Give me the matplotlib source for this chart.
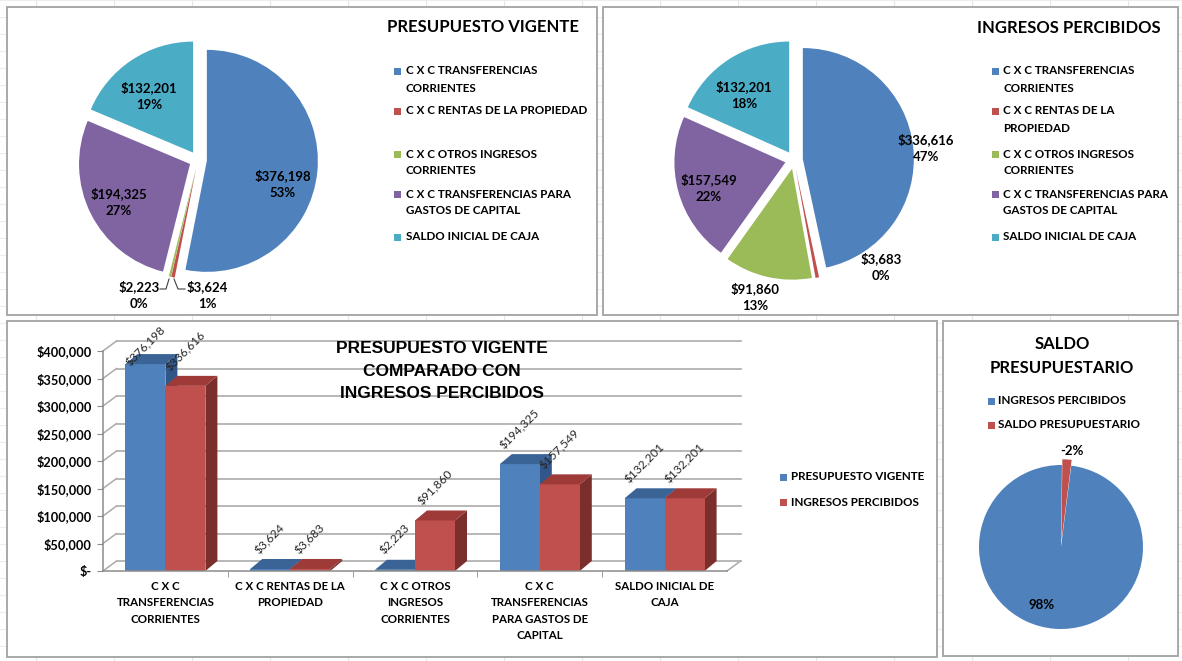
import matplotlib
matplotlib.use("Agg")
import matplotlib.pyplot as plt
from matplotlib.patches import Rectangle, Polygon

plt.rcParams['font.family'] = ['Lato', 'DejaVu Sans']

# ---------------- data ----------------
legend_pv = ["C X C TRANSFERENCIAS\nCORRIENTES", "C X C RENTAS DE LA PROPIEDAD",
             "C X C OTROS INGRESOS\nCORRIENTES", "C X C TRANSFERENCIAS PARA\nGASTOS DE CAPITAL",
             "SALDO INICIAL DE CAJA"]
legend_ip = ["C X C TRANSFERENCIAS\nCORRIENTES", "C X C RENTAS DE LA\nPROPIEDAD",
             "C X C OTROS INGRESOS\nCORRIENTES", "C X C TRANSFERENCIAS PARA\nGASTOS DE CAPITAL",
             "SALDO INICIAL DE CAJA"]
pv_values = [376198, 3624, 2223, 194325, 132201]
ip_values = [336616, 3683, 91860, 157549, 132201]
pv_pct = ["53%", "1%", "0%", "27%", "19%"]
ip_pct = ["47%", "0%", "13%", "22%", "18%"]

bar_categories = ["C X C\nTRANSFERENCIAS\nCORRIENTES", "C X C RENTAS DE LA\nPROPIEDAD",
                  "C X C OTROS\nINGRESOS\nCORRIENTES", "C X C\nTRANSFERENCIAS\nPARA GASTOS DE\nCAPITAL",
                  "SALDO INICIAL DE\nCAJA"]
series_names = ["PRESUPUESTO VIGENTE", "INGRESOS PERCIBIDOS"]
y_ticks = [0, 50000, 100000, 150000, 200000, 250000, 300000, 350000, 400000]
y_ticklabels = ["$-", "$50,000", "$100,000", "$150,000", "$200,000", "$250,000",
                "$300,000", "$350,000", "$400,000"]

saldo_names = ["INGRESOS PERCIBIDOS", "SALDO PRESUPUESTARIO"]
saldo_values = [721909, -13338]
saldo_pct = ["98%", "-2%"]

# ---------------- style ----------------
PIE_COLORS = ["#4F81BD", "#C0504D", "#9BBB59", "#8064A2", "#4BACC6"]
BLUE, RED = "#4F81BD", "#C0504D"
BLUE_TOP, BLUE_SIDE = "#3A6396", "#31578A"
RED_TOP, RED_SIDE = "#9E3B38", "#7B2F2D"

W, H = 1182, 661
fig = plt.figure(figsize=(W / 100, H / 100), dpi=100)
fig.patch.set_facecolor("white")

bg = fig.add_axes([0, 0, 1, 1])
bg.set_xlim(0, W); bg.set_ylim(H, 0); bg.axis("off")

# faint spreadsheet grid behind panels
for x in range(36, W, 78):
    bg.plot([x, x], [0, H], color="#E6E6E6", lw=0.8, zorder=0)
for y in range(0, H, 17):
    bg.plot([0, W], [y, y], color="#EDEDED", lw=0.8, zorder=0)

panels = [(7, 7, 597, 315), (603, 7, 1178, 315), (7, 321, 937, 657), (943, 321, 1178, 656)]
for x0, y0, x1, y1 in panels:
    bg.add_patch(Rectangle((x0, y0), x1 - x0, y1 - y0, facecolor="white",
                           edgecolor="#A8A8A8", lw=1.4, zorder=1))


def add_pie_axes(cx, cy, r, half):
    ax = fig.add_axes([(cx - half) / W, 1 - (cy + half) / H, 2 * half / W, 2 * half / H])
    return ax, half / r


# ---------------- pie 1 ----------------
ax1, lim1 = add_pie_axes(198, 160, 111, 150)
ax1.pie(pv_values, colors=PIE_COLORS, startangle=90, counterclock=False,
        explode=[0.08] * 5, wedgeprops=dict(linewidth=0))
ax1.set_xlim(-lim1, lim1); ax1.set_ylim(-lim1, lim1)

# ---------------- pie 2 ----------------
ax2, lim2 = add_pie_axes(794, 160, 111, 150)
ax2.pie(ip_values, colors=PIE_COLORS, startangle=90, counterclock=False,
        explode=[0.08] * 5, wedgeprops=dict(linewidth=0))
ax2.set_xlim(-lim2, lim2); ax2.set_ylim(-lim2, lim2)

# ---------------- pie 4 ----------------
ax4, lim4 = add_pie_axes(1061, 547, 82, 100)
ax4.pie([abs(v) for v in saldo_values], colors=[BLUE, RED], startangle=82.8,
        counterclock=False, explode=[0, 0.07], wedgeprops=dict(linewidth=0))
ax4.set_xlim(-lim4, lim4); ax4.set_ylim(-lim4, lim4)

# ---------------- bar chart ----------------
FX0, FX1, FY0, FY1 = 103, 727, 571, 351
axb = fig.add_axes([FX0 / W, 1 - FY0 / H, (FX1 - FX0) / W, (FY0 - FY1) / H])
axb.set_xlim(-0.5, 4.5); axb.set_ylim(0, 400000)
axb.patch.set_alpha(0)
xpp = 5 / (FX1 - FX0)          # data units per pixel (x)
ypp = 400000 / (FY0 - FY1)     # data units per pixel (y)
DXW, DYW = 13.5 * xpp, 10 * ypp
DX, DY = 12 * xpp, 10 * ypp
bw = 40 * xpp

GRID = "#ABABAB"
for v in y_ticks:
    axb.plot([-0.5 + DXW, 4.5 + DXW], [v + DYW, v + DYW], color=GRID, lw=1.2,
             clip_on=False, zorder=1)
    axb.plot([-0.5, -0.5 + DXW], [v, v + DYW], color=GRID, lw=1.1, clip_on=False, zorder=1)
axb.plot([4.5, 4.5 + DXW], [0, DYW], color=GRID, lw=1.1, clip_on=False, zorder=1)


def bar3d(x0, v, front, top, side):
    x1 = x0 + bw
    axb.add_patch(Polygon([(x1, 0), (x1, v), (x1 + DX, v + DY), (x1 + DX, DY)],
                          closed=True, facecolor=side, edgecolor="none", zorder=3,
                          clip_on=False))
    axb.bar(x0, v, width=bw, align="edge", color=front, zorder=3, linewidth=0)
    axb.add_patch(Polygon([(x0, v), (x1, v), (x1 + DX, v + DY), (x0 + DX, v + DY)],
                          closed=True, facecolor=top, edgecolor="none", zorder=3,
                          clip_on=False))


label_cap = 203 * ypp
for i in range(len(bar_categories)):
    for j, (vals, cols) in enumerate([(pv_values, (BLUE, BLUE_TOP, BLUE_SIDE)),
                                      (ip_values, (RED, RED_TOP, RED_SIDE))]):
        x0 = i - bw + j * bw
        v = vals[i]
        bar3d(x0, v, *cols)
        ly = min(v + 13 * ypp, label_cap)
        axb.text(x0 + bw / 2, ly, f"${v:,}", rotation=45, ha="center", va="bottom",
                 fontsize=8.6, color="#262626", zorder=5, clip_on=False)

for s in ["top", "right"]:
    axb.spines[s].set_visible(False)
for s in ["left", "bottom"]:
    axb.spines[s].set_color("#8C8C8C")
    axb.spines[s].set_linewidth(1.1)
    axb.spines[s].set_zorder(4)
axb.set_yticks(y_ticks, labels=y_ticklabels)
axb.set_xticks(range(5), labels=bar_categories)
axb.set_xticks([0.5, 1.5, 2.5, 3.5], minor=True)
axb.tick_params(axis="y", length=4, color="#8C8C8C", pad=4, labelsize=9.2)
axb.tick_params(axis="x", which="major", length=0, pad=7, labelsize=8.3)
axb.tick_params(axis="x", which="minor", length=4, color="#8C8C8C")
for t in axb.get_yticklabels():
    t.set_fontweight("bold")
for t in axb.get_xticklabels():
    t.set_fontweight("bold"); t.set_linespacing(1.6)

# ---------------- overlay text ----------------
fg = fig.add_axes([0, 0, 1, 1], zorder=10)
fg.set_xlim(0, W); fg.set_ylim(H, 0); fg.axis("off"); fg.patch.set_alpha(0)

LBL = dict(fontsize=9.5, fontweight="bold", ha="center", va="center", linespacing=1.5)
pv_pos = [(283, 184), (207, 295), (139, 295), (119, 202), (149, 96)]
ip_pos = [(926, 148), (881, 267), (755, 297), (709, 188), (744, 95)]
for v, p, (x, y) in zip(pv_values, pv_pct, pv_pos):
    fg.text(x, y, f"${v:,}\n{p}", **LBL)
for v, p, (x, y) in zip(ip_values, ip_pct, ip_pos):
    fg.text(x, y, f"${v:,}\n{p}", **LBL)
# leader lines for the small slices of pie 1
fg.plot([160, 166, 169], [289, 289, 279], color="#404040", lw=0.8)
fg.plot([174, 178, 185], [279, 289, 289], color="#404040", lw=0.8)

fg.text(1072, 451, saldo_pct[1], **LBL)
fg.text(1042, 605, saldo_pct[0], **LBL)

# titles
fg.text(483, 27, "PRESUPUESTO VIGENTE", fontsize=12, fontweight="bold", ha="center", va="center")
fg.text(1069, 28, "INGRESOS PERCIBIDOS", fontsize=12, fontweight="bold", ha="center", va="center")
fg.text(1062, 356, "SALDO\nPRESUPUESTARIO", fontsize=12, fontweight="bold", ha="center",
        va="center", linespacing=1.6)
fg.text(442, 371, "PRESUPUESTO VIGENTE\nCOMPARADO CON\nINGRESOS PERCIBIDOS",
        family="Liberation Sans", fontsize=12.5, fontweight="bold", ha="center", va="center",
        linespacing=1.6)


def legend(mx, tx, ys, labels, colors, step=17, fs=8.4):
    for y, lab, c in zip(ys, labels, colors):
        fg.add_patch(Rectangle((mx, y - 3.5), 7, 7, facecolor=c, edgecolor="none"))
        for k, line in enumerate(lab.split("\n")):
            fg.text(tx, y + k * step, line, fontsize=fs, fontweight="bold",
                    ha="left", va="center")


leg_y = [71, 111, 154, 194, 237]
legend(394, 406, leg_y, legend_pv, PIE_COLORS)
legend(992, 1003, leg_y, legend_ip, PIE_COLORS)
legend(780, 791, [477, 502], series_names, [BLUE, RED])
legend(988, 998, [401, 425], saldo_names, [BLUE, RED])

fig.savefig("out.png", dpi=100, facecolor="white")
